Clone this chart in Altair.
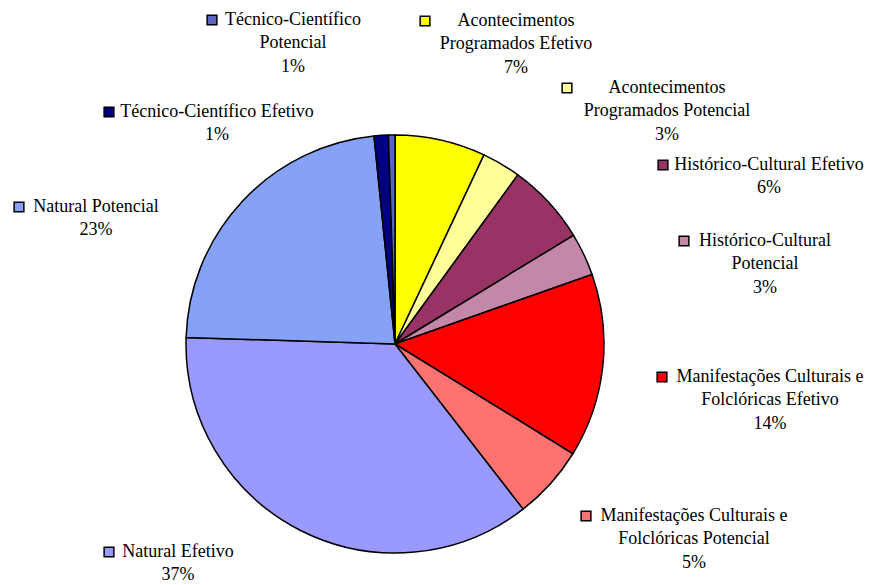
import altair as alt
import pandas as pd

# ---- data (clockwise from 12 o'clock) ----
categories = [
    "Acontecimentos Programados Efetivo",
    "Acontecimentos Programados Potencial",
    "Histórico-Cultural Efetivo",
    "Histórico-Cultural Potencial",
    "Manifestações Culturais e Folclóricas Efetivo",
    "Manifestações Culturais e Folclóricas Potencial",
    "Natural Efetivo",
    "Natural Potencial",
    "Técnico-Científico Efetivo",
    "Técnico-Científico Potencial",
]
values = [7.0, 3.0, 6.3, 3.3, 14.2, 5.7, 36.0, 22.9, 1.1, 0.5]
pct_labels = ["7%", "3%", "6%", "3%", "14%", "5%", "37%", "23%", "1%", "1%"]
label_lines = [
    ["Acontecimentos", "Programados Efetivo"],
    ["Acontecimentos", "Programados Potencial"],
    ["Histórico-Cultural Efetivo"],
    ["Histórico-Cultural", "Potencial"],
    ["Manifestações Culturais e", "Folclóricas Efetivo"],
    ["Manifestações Culturais e", "Folclóricas Potencial"],
    ["Natural Efetivo"],
    ["Natural Potencial"],
    ["Técnico-Científico Efetivo"],
    ["Técnico-Científico", "Potencial"],
]
colors = [
    "#FFFF00", "#FFFF99", "#993366", "#C487A8", "#FF0000",
    "#FF7272", "#9999FF", "#86A2F6", "#000080", "#5A64C4",
]

# ---- layout (page pixel positions of label blocks) ----
OFF = 8  # page margin
label_center_x = [516, 667, 769, 765, 770, 694, 178, 96, 217, 293]
label_top_y = [21, 88, 165, 241, 377, 516, 552, 207, 112, 20]
key_x = [425, 567, 663, 684, 662, 586, 109, 19, 109, 212]
LINE_H = 23.3
PIE_CX, PIE_CY, PIE_R = 395, 344, 209

pie_df = pd.DataFrame({"cat": categories, "value": values, "idx": list(range(len(values)))})

text_rows = []
for i, lines in enumerate(label_lines):
    for j, ln in enumerate(lines + [pct_labels[i]]):
        text_rows.append({"t": ln, "x": label_center_x[i] - OFF, "y": label_top_y[i] + j * LINE_H - OFF})
text_df = pd.DataFrame(text_rows)

key_df = pd.DataFrame({"cat": categories, "x": [k - OFF for k in key_x], "y": [t - OFF for t in label_top_y]})

color_scale = alt.Scale(domain=categories, range=colors)

pie = alt.Chart(pie_df).mark_arc(stroke="black", strokeWidth=1.5).encode(
    theta=alt.Theta("value:Q", stack=True),
    order=alt.Order("idx:Q", sort="ascending"),
    color=alt.Color("cat:N", scale=color_scale, legend=None),
    x=alt.value(PIE_CX - OFF),
    y=alt.value(PIE_CY - OFF),
    radius=alt.value(PIE_R),
)

keys = alt.Chart(key_df).mark_square(size=95, stroke="black", strokeWidth=1.5, opacity=1).encode(
    x=alt.X("x:Q", scale=None),
    y=alt.Y("y:Q", scale=None),
    fill=alt.Color("cat:N", scale=color_scale, legend=None),
)

texts = alt.Chart(text_df).mark_text(
    font="Liberation Serif", fontSize=18, align="center", baseline="middle", color="black"
).encode(
    x=alt.X("x:Q", scale=None),
    y=alt.Y("y:Q", scale=None),
    text="t:N",
)

chart = alt.layer(pie, keys, texts).properties(
    width=859, height=576, padding=0, autosize=alt.AutoSizeParams(type="none")
).configure_view(stroke=None)

chart.save("out.html", embed_options={"renderer": "svg", "actions": False})
